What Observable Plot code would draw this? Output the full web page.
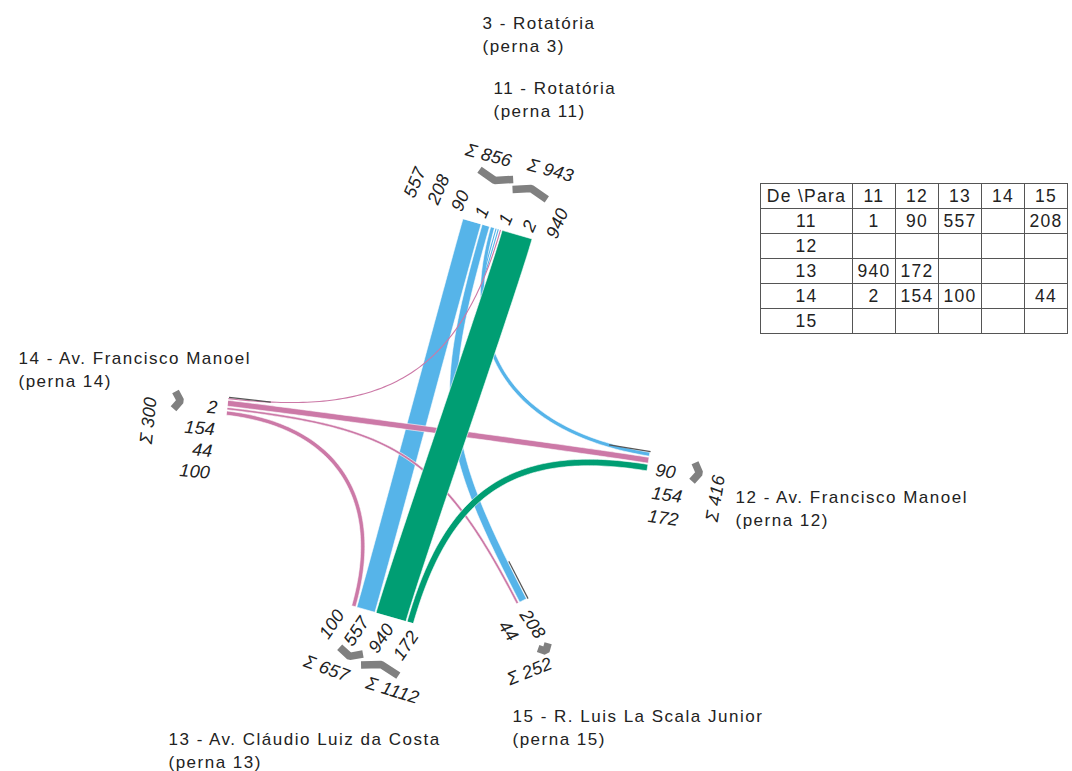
<!DOCTYPE html>
<html><head><meta charset="utf-8">
<script src="https://cdn.jsdelivr.net/npm/d3@7"></script>
<script src="https://cdn.jsdelivr.net/npm/@observablehq/plot@0.6"></script>
<style>
body{margin:0;background:#fff;}
#wrap{position:relative;width:1072px;height:771px;font-family:"Liberation Sans",Arial,sans-serif;}
#wrap svg{display:block;}
#wrap svg g[aria-label="text"] text{letter-spacing:1.5px;}
#wrap svg g[font-style="italic"] text{letter-spacing:0.2px;}
#tbl{position:absolute;left:760px;top:183px;border-collapse:collapse;font-size:17.5px;letter-spacing:1.3px;color:#222;}
#tbl td{border:1px solid #555;height:24px;line-height:24px;padding:0;text-align:center;width:42px;}
#tbl td:first-child{width:91px;}
</style></head><body><div id="wrap"></div>
<script>
// ---------- data ----------
const legIds = ["11", "12", "13", "14", "15"];
const flowFrom = ["11", "11", "11", "11", "13", "13", "14", "14", "14", "14"];
const flowTo   = ["11", "12", "13", "15", "11", "12", "11", "12", "13", "15"];
const flowVolume = [1, 90, 557, 208, 940, 172, 2, 154, 100, 44];
const titleIds = ["3", "11", "12", "13", "14", "15"];
const titleNames = ["Rotatória", "Rotatória", "Av. Francisco Manoel", "Av. Cláudio Luiz da Costa", "Av. Francisco Manoel", "R. Luis La Scala Junior"];

// ---------- layout ----------
const colorOf = {domain: ["11", "13", "14"], range: ["#56B4E9", "#009E73", "#CC79A7"]};
const titlePos = {"3": [482, 13], "11": [493, 78], "12": [735, 487], "13": [168, 729], "14": [18, 348], "15": [512, 706]};
const legLayout = {
  "11": {c: [497.5, 229], ang: 106,
         slots: ["i13>11", "i14>11", "i11>11", "o11>11", "o11>12", "o11>15", "o11>13"],
         lab: {p: [551, 237], step: 24.7, rot: -67, anchor: "start"},
         sums: {out: {at: [488, 155], rot: 15, arrow: [495, 177]}, in: {at: [550, 170], rot: 15, arrow: [530, 191]}}},
  "12": {c: [648.5, 461], ang: -170.8,
         slots: ["i13>12", "i14>12", "i11>12", "z"],
         lab: {p: [647.5, 515.5], step: 23.3, rot: 8, anchor: "start"},
         sums: {in: {at: [715, 498], rot: -81, arrow: [696, 472]}}},
  "13": {c: [382.5, 614.5], ang: -74,
         slots: ["i14>13", "i11>13", "o13>11", "o13>12"],
         lab: {p: [340, 611], step: 25.7, rot: -56, anchor: "end"},
         sums: {in: {at: [326, 668], rot: 20, arrow: [350, 653]}, out: {at: [392, 690], rot: 17, arrow: [380, 667]}}},
  "14": {c: [227.5, 406], ang: 6.6,
         slots: ["z", "o14>11", "o14>12", "o14>15", "o14>13"],
         lab: {p: [217, 407.5], step: 21.8, rot: 5, anchor: "end"},
         sums: {out: {at: [148, 420], rot: -84, arrow: [177, 400]}}},
  "15": {c: [522, 601], ang: -117.3,
         slots: ["i14>15", "i11>15", "z"],
         lab: {p: [502, 622], step: 24, rot: 56, anchor: "start"},
         sums: {in: {at: [529, 671], rot: -22, arrow: [544, 648]}}}
};
const SCALE = 0.032, OFFSET = 1.0, GAP = 1.2, MINW = 1.1;

// ---------- geometry ----------
const volOf = new Map(flowFrom.map((f, i) => [f + ">" + flowTo[i], flowVolume[i]]));
const bw = v => Math.max(v * SCALE + OFFSET, MINW);
const slotPt = new Map();
const legGeo = {};
for (const id of legIds) {
  const L = legLayout[id];
  const a = L.ang * Math.PI / 180;
  const d = [Math.cos(a), Math.sin(a)], t = [-d[1], d[0]];
  const ws = L.slots.map(s => s === "z" ? 0 : bw(volOf.get(s.slice(1))));
  const W = d3.sum(ws) + GAP * (ws.length - 1);
  let p = -W / 2;
  const pts = L.slots.map((s, i) => {
    const m = p + ws[i] / 2; p += ws[i] + GAP;
    return {s, w: ws[i], x: L.c[0] + t[0] * m, y: L.c[1] + t[1] * m};
  });
  pts.forEach(q => { if (q.s !== "z") slotPt.set(q.s, q); });
  legGeo[id] = {d, t, pts};
}

const originOrder = ["11", "14", "13"];
const flows = flowFrom.map((f, i) => ({from: f, to: flowTo[i], v: flowVolume[i], key: f + ">" + flowTo[i]}))
  .sort((a, b) => originOrder.indexOf(a.from) - originOrder.indexOf(b.from));
const ribbonRows = [];
for (const fl of flows) {
  const A = slotPt.get("o" + fl.key), B = slotPt.get("i" + fl.key);
  const d0 = legGeo[fl.from].d, d1 = legGeo[fl.to].d;
  const dist = Math.hypot(B.x - A.x, B.y - A.y);
  const opposite = d0[0] * d1[0] + d0[1] * d1[1] < -0.97;
  const Lc = opposite ? 0.15 * dist : Math.max(0.48 * dist, 68);
  const P0 = [A.x, A.y], P1 = [A.x + d0[0] * Lc, A.y + d0[1] * Lc];
  const P2 = [B.x + d1[0] * Lc, B.y + d1[1] * Lc], P3 = [B.x, B.y];
  const hw = bw(fl.v) / 2;
  const N = 90;
  for (let k = 0; k <= N; k++) {
    const u = k / N, mu = 1 - u;
    const bx = mu*mu*mu*P0[0] + 3*mu*mu*u*P1[0] + 3*mu*u*u*P2[0] + u*u*u*P3[0];
    const by = mu*mu*mu*P0[1] + 3*mu*mu*u*P1[1] + 3*mu*u*u*P2[1] + u*u*u*P3[1];
    const dx = 3*mu*mu*(P1[0]-P0[0]) + 6*mu*u*(P2[0]-P1[0]) + 3*u*u*(P3[0]-P2[0]);
    const dy = 3*mu*mu*(P1[1]-P0[1]) + 6*mu*u*(P2[1]-P1[1]) + 3*u*u*(P3[1]-P2[1]);
    const len = Math.hypot(dx, dy) || 1;
    const nx = -dy / len, ny = dx / len;
    ribbonRows.push({key: fl.key, origin: fl.from, thin: fl.v < 20,
      x1: bx + nx * hw, y1: by + ny * hw, x2: bx - nx * hw, y2: by - ny * hw});
  }
}

const zeroRows = legIds.flatMap(id => legGeo[id].pts.filter(q => q.s === "z").map(q => ({
  x1: q.x, y1: q.y, x2: q.x + legGeo[id].d[0] * 42, y2: q.y + legGeo[id].d[1] * 42})));

const labelMarks = legIds.map(id => {
  const L = legLayout[id], g = legGeo[id];
  const rows = g.pts.filter(q => q.s !== "z").map((q, j) => ({
    text: String(volOf.get(q.s.slice(1))),
    x: L.lab.p[0] + g.t[0] * L.lab.step * j,
    y: L.lab.p[1] + g.t[1] * L.lab.step * j}));
  return Plot.text(rows, {x: "x", y: "y", text: "text", rotate: L.lab.rot, textAnchor: L.lab.anchor,
    fontSize: 18, fontStyle: "italic", fill: "#222"});
});

const sumRows = [], chevronRows = [];
for (const id of legIds) {
  const L = legLayout[id], g = legGeo[id];
  for (const kind of ["out", "in"]) {
    const S = L.sums[kind];
    if (!S) continue;
    const idx = kind === "out" ? flowFrom : flowTo;
    const total = d3.sum(flowVolume.filter((v, i) => idx[i] === id));
    sumRows.push({x: S.at[0], y: S.at[1], rot: S.rot, text: "Σ " + total});
    const grp = g.pts.filter(q => q.s[0] === (kind === "out" ? "o" : "i"));
    const gw = d3.sum(grp, q => q.w) + GAP * (grp.length - 1);
    const h = gw / 2, depth = 6;
    const dir = kind === "out" ? g.d : [-g.d[0], -g.d[1]];
    const c = S.arrow, cid = id + kind;
    chevronRows.push(
      {id: cid, x: c[0] + g.t[0]*h - dir[0]*depth/2, y: c[1] + g.t[1]*h - dir[1]*depth/2},
      {id: cid, x: c[0] + dir[0]*depth/2, y: c[1] + dir[1]*depth/2},
      {id: cid, x: c[0] - g.t[0]*h - dir[0]*depth/2, y: c[1] - g.t[1]*h - dir[1]*depth/2});
  }
}

const titleRows = titleIds.map((id, i) => ({x: titlePos[id][0], y: titlePos[id][1],
  text: `${id} - ${titleNames[i]}\n(perna ${id})`}));

const ribbonMarks = [];
for (const o of originOrder) for (const thin of [false, true]) {
  const rows = ribbonRows.filter(r => r.origin === o && r.thin === thin);
  if (!rows.length) continue;
  ribbonMarks.push(Plot.area(rows, {x1: "x1", y1: "y1", x2: "x2", y2: "y2", z: "key", fill: "origin",
    stroke: thin ? "none" : "white", strokeWidth: 0.6}));
}

const chart = Plot.plot({
  width: 1072, height: 771, margin: 0,
  x: {domain: [0, 1072], range: [0, 1072], axis: null},
  y: {domain: [0, 771], range: [0, 771], axis: null},
  color: colorOf,
  style: {fontFamily: "Liberation Sans, Arial, sans-serif", background: "white", overflow: "visible"},
  marks: [
    ...ribbonMarks,
    Plot.link(zeroRows, {x1: "x1", y1: "y1", x2: "x2", y2: "y2", stroke: "#555", strokeWidth: 1.2}),
    Plot.line(chevronRows, {x: "x", y: "y", z: "id", stroke: "#808080", strokeWidth: 7.5, strokeLinejoin: "miter", strokeLinecap: "butt"}),
    ...labelMarks,
    Plot.text(sumRows, {x: "x", y: "y", text: "text", rotate: "rot", fontSize: 18, fontStyle: "italic", fill: "#222"}),
    Plot.text(titleRows, {x: "x", y: "y", text: "text", textAnchor: "start", lineAnchor: "top", lineHeight: 1.32, fontSize: 17, fill: "#222"})
  ]
});
const wrap = document.getElementById("wrap");
wrap.appendChild(chart);

// ---------- O/D table ----------
const tbl = document.createElement("table");
tbl.id = "tbl";
const header = ["De \\Para", ...legIds];
const bodyRows = legIds.map(o => [o, ...legIds.map(dst => volOf.has(o + ">" + dst) ? String(volOf.get(o + ">" + dst)) : "")]);
for (const r of [header, ...bodyRows]) {
  const tr = document.createElement("tr");
  for (const cell of r) { const td = document.createElement("td"); td.textContent = cell; tr.appendChild(td); }
  tbl.appendChild(tr);
}
wrap.appendChild(tbl);
</script></body></html>
